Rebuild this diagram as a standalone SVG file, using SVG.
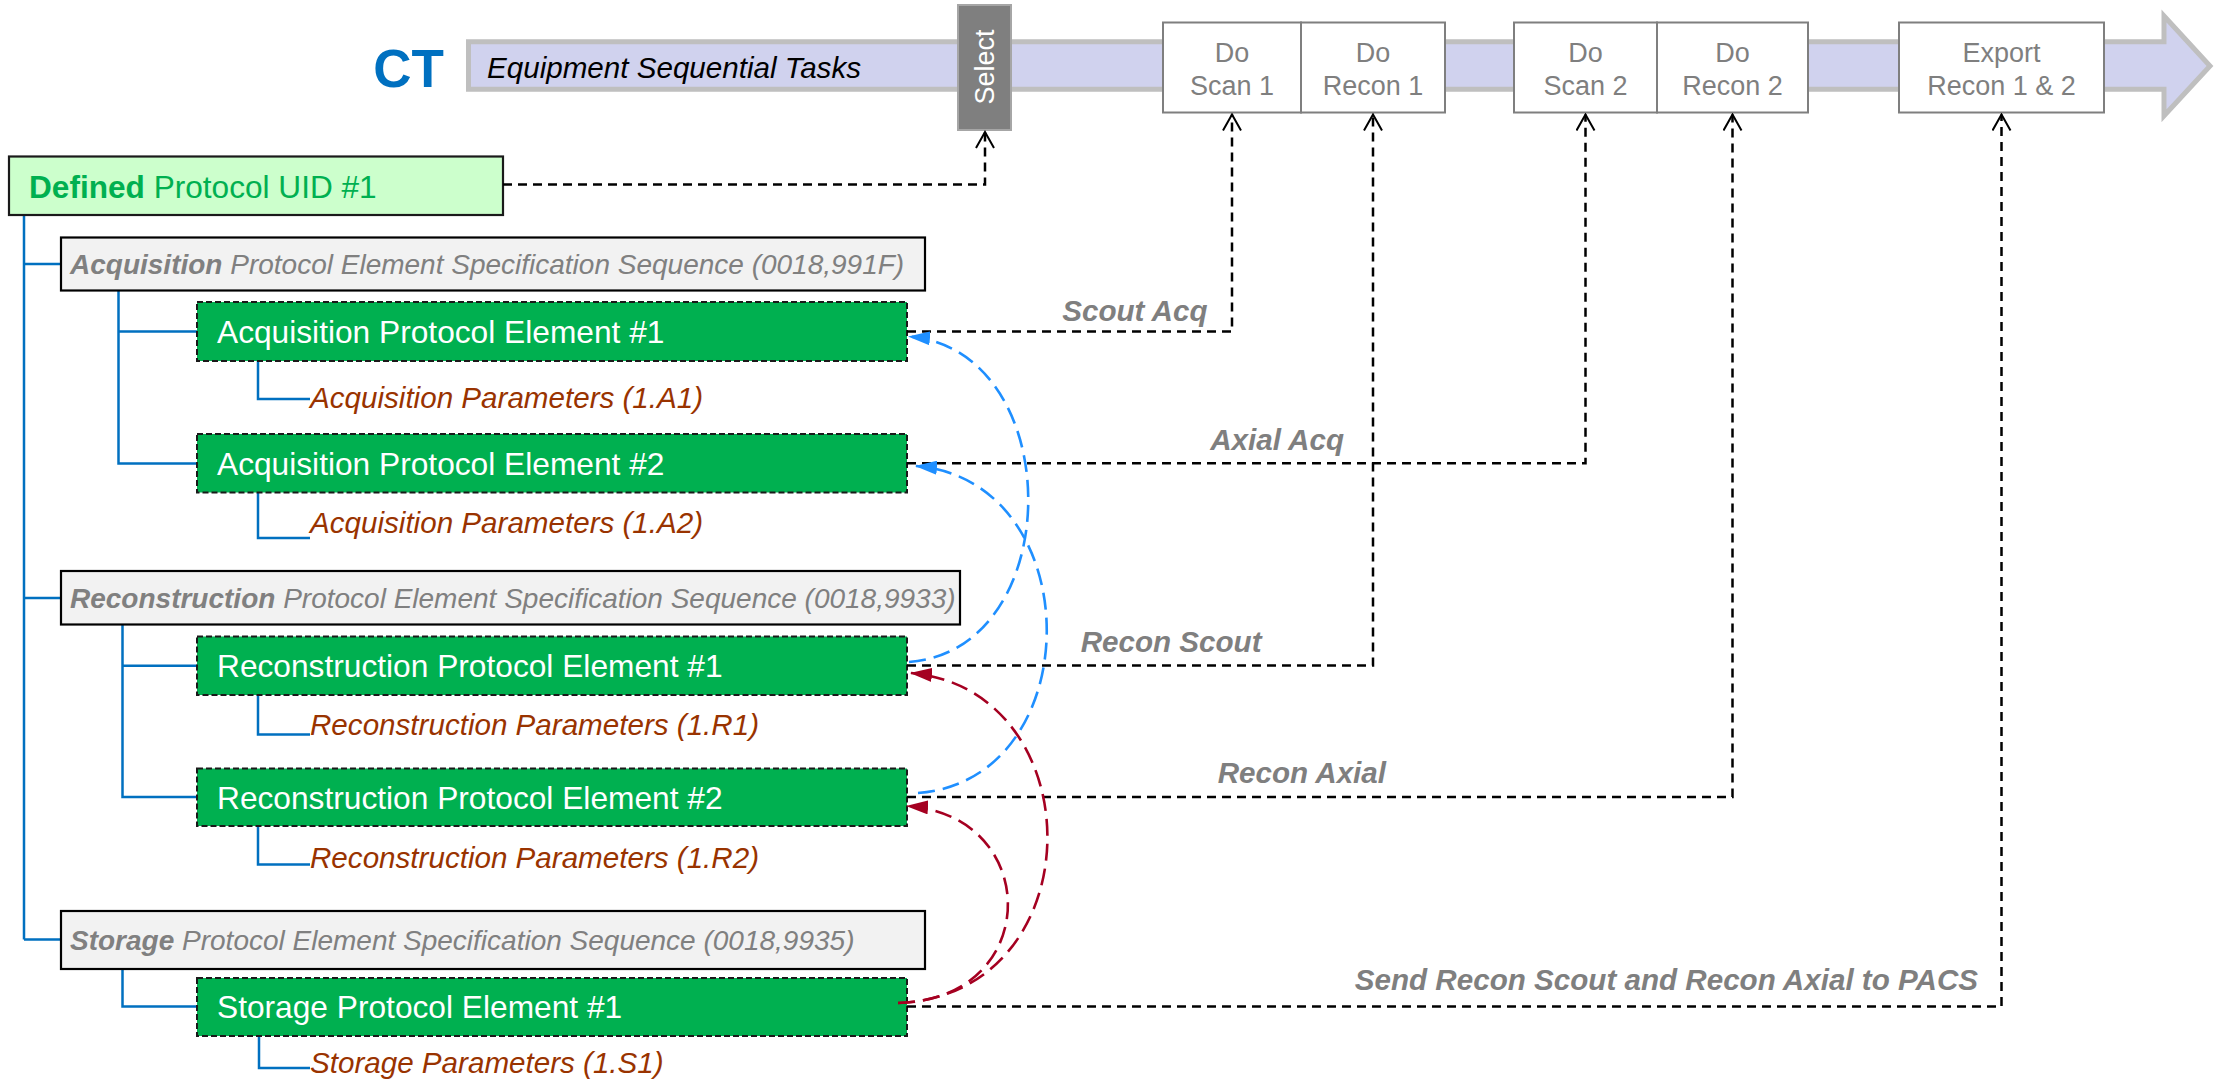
<svg xmlns="http://www.w3.org/2000/svg" width="2215" height="1081" viewBox="0 0 2215 1081">
  <style>
    text { font-family: "Liberation Sans", Arial, sans-serif; }
    .task { fill: #ffffff; stroke: #7f7f7f; stroke-width: 2; }
    .taskText { fill: #7f7f7f; font-size: 27px; text-anchor: middle; }
    .header { fill: #f2f2f2; stroke: #000000; stroke-width: 2.2; }
    .headerText { fill: #808080; font-size: 28px; font-style: italic; }
    .element { fill: #00b050; stroke: #1a1a1a; stroke-width: 2; stroke-dasharray: 6 3; }
    .elementText { fill: #ffffff; font-size: 31.7px; }
    .paramText { fill: #993300; font-size: 29.6px; font-style: italic; }
    .tree { fill: none; stroke: #0070c0; stroke-width: 2.5; }
    .link { fill: none; stroke: #000000; stroke-width: 2.5; stroke-dasharray: 9 6; }
    .linkLabel { fill: #7f7f7f; font-size: 29.6px; font-weight: bold; font-style: italic; text-anchor: end; }
    .blueCurve { fill: none; stroke: #1f8fff; stroke-width: 2.6; stroke-dasharray: 17 8; }
    .redCurve { fill: none; stroke: #a50021; stroke-width: 2.6; stroke-dasharray: 17 8; }
  </style>
  <defs>
    <marker id="openHead" viewBox="0 0 20 20" refX="18" refY="10" markerWidth="20" markerHeight="20" markerUnits="userSpaceOnUse" orient="auto">
      <path d="M2,1 L18,10 L2,19" fill="none" stroke="#000000" stroke-width="2"/>
    </marker>
    <marker id="blueHead" viewBox="0 0 22 14" refX="21" refY="7" markerWidth="22" markerHeight="14" markerUnits="userSpaceOnUse" orient="auto">
      <path d="M0,0 L22,7 L0,14 z" fill="#1f8fff"/>
    </marker>
    <marker id="redHead" viewBox="0 0 22 14" refX="21" refY="7" markerWidth="22" markerHeight="14" markerUnits="userSpaceOnUse" orient="auto">
      <path d="M0,0 L22,7 L0,14 z" fill="#a50021"/>
    </marker>
  </defs>

  <rect x="0" y="0" width="2215" height="1081" fill="#ffffff"/>

  <!-- timeline band -->
  <g id="timeline">
    <text x="444" y="87" font-size="53" font-weight="bold" fill="#0070c0" text-anchor="end">CT</text>
    <polygon points="468.5,41.8 2164,41.8 2164,16 2210,66 2164,115.8 2164,89.2 468.5,89.2" fill="#d0d2ee" stroke="#bfbfbf" stroke-width="5"/>
    <text x="487" y="78" font-size="29.6" font-style="italic" fill="#000000">Equipment Sequential Tasks</text>
  </g>

  <g id="select">
    <rect x="958" y="5" width="53" height="125" fill="#7f7f7f" stroke="#a6a6a6" stroke-width="2"/>
    <text x="0" y="0" transform="translate(994,67) rotate(-90)" font-size="27" fill="#ffffff" text-anchor="middle">Select</text>
  </g>

  <g id="do-scan-1">
    <rect class="task" x="1163" y="22.5" width="138" height="90"/>
    <text class="taskText" x="1232" y="62">Do</text>
    <text class="taskText" x="1232" y="95">Scan 1</text>
  </g>
  <g id="do-recon-1">
    <rect class="task" x="1301" y="22.5" width="144" height="90"/>
    <text class="taskText" x="1373" y="62">Do</text>
    <text class="taskText" x="1373" y="95">Recon 1</text>
  </g>
  <g id="do-scan-2">
    <rect class="task" x="1514" y="22.5" width="143" height="90"/>
    <text class="taskText" x="1585.5" y="62">Do</text>
    <text class="taskText" x="1585.5" y="95">Scan 2</text>
  </g>
  <g id="do-recon-2">
    <rect class="task" x="1657" y="22.5" width="151" height="90"/>
    <text class="taskText" x="1732.5" y="62">Do</text>
    <text class="taskText" x="1732.5" y="95">Recon 2</text>
  </g>
  <g id="export">
    <rect class="task" x="1899" y="22.5" width="205" height="90"/>
    <text class="taskText" x="2001.5" y="62">Export</text>
    <text class="taskText" x="2001.5" y="95">Recon 1 &amp; 2</text>
  </g>

  <!-- protocol tree lines -->
  <g id="tree-lines" class="tree">
    <path d="M24,215 V939.5 M24,264 H61 M24,598 H61 M24,939.5 H61"/>
    <path d="M118.5,291 V463.5 H197 M118.5,331.5 H197"/>
    <path d="M122.5,624.5 V797 H197 M122.5,665.7 H197"/>
    <path d="M122.5,969 V1006.5 H197"/>
    <path d="M258,361 V399 H310"/>
    <path d="M258,492.5 V538 H310"/>
    <path d="M258,695 V734.5 H310"/>
    <path d="M258,826 V864.5 H310"/>
    <path d="M259,1036 V1068 H310"/>
  </g>

  <g id="defined-protocol">
    <rect x="9" y="156.5" width="494" height="58.5" fill="#ccffcc" stroke="#1a1a1a" stroke-width="2.2"/>
    <text x="29" y="198" font-size="31.6" fill="#00b050"><tspan font-weight="bold">Defined</tspan> Protocol UID #1</text>
  </g>

  <g id="acquisition-sequence">
    <rect class="header" x="61" y="237.5" width="864" height="53"/>
    <text class="headerText" x="70" y="274"><tspan font-weight="bold">Acquisition</tspan> Protocol Element Specification Sequence (0018,991F)</text>
  </g>
  <g id="acquisition-element-1">
    <rect class="element" x="197" y="302" width="710" height="59"/>
    <text class="elementText" x="217" y="343">Acquisition Protocol Element #1</text>
  </g>
  <g id="acquisition-parameters-1">
    <text class="paramText" x="310" y="408">Acquisition Parameters (1.A1)</text>
  </g>
  <g id="acquisition-element-2">
    <rect class="element" x="197" y="434" width="710" height="58.5"/>
    <text class="elementText" x="217" y="475">Acquisition Protocol Element #2</text>
  </g>
  <g id="acquisition-parameters-2">
    <text class="paramText" x="310" y="533">Acquisition Parameters (1.A2)</text>
  </g>

  <g id="reconstruction-sequence">
    <rect class="header" x="61" y="571" width="899" height="53.5"/>
    <text class="headerText" x="70" y="608"><tspan font-weight="bold">Reconstruction</tspan> Protocol Element Specification Sequence (0018,9933)</text>
  </g>
  <g id="reconstruction-element-1">
    <rect class="element" x="197" y="636.5" width="710" height="58.5"/>
    <text class="elementText" x="217" y="677">Reconstruction Protocol Element #1</text>
  </g>
  <g id="reconstruction-parameters-1">
    <text class="paramText" x="310" y="735">Reconstruction Parameters (1.R1)</text>
  </g>
  <g id="reconstruction-element-2">
    <rect class="element" x="197" y="768.5" width="710" height="57.5"/>
    <text class="elementText" x="217" y="808.5">Reconstruction Protocol Element #2</text>
  </g>
  <g id="reconstruction-parameters-2">
    <text class="paramText" x="310" y="868">Reconstruction Parameters (1.R2)</text>
  </g>

  <g id="storage-sequence">
    <rect class="header" x="61" y="911" width="864" height="58"/>
    <text class="headerText" x="70" y="950"><tspan font-weight="bold">Storage</tspan> Protocol Element Specification Sequence (0018,9935)</text>
  </g>
  <g id="storage-element-1">
    <rect class="element" x="197" y="978" width="710" height="58"/>
    <text class="elementText" x="217" y="1018">Storage Protocol Element #1</text>
  </g>
  <g id="storage-parameters-1">
    <text class="paramText" x="310" y="1073">Storage Parameters (1.S1)</text>
  </g>

  <!-- connectors -->
  <g id="connectors">
    <path class="link" d="M503,184.5 H985 V132" marker-end="url(#openHead)"/>
    <path class="link" d="M907,331.5 H1232 V114.5" marker-end="url(#openHead)"/>
    <path class="link" d="M907,463.3 H1585.5 V114.5" marker-end="url(#openHead)"/>
    <path class="link" d="M907,665.5 H1373 V114.5" marker-end="url(#openHead)"/>
    <path class="link" d="M907,797 H1732.5 V114.5" marker-end="url(#openHead)"/>
    <path class="link" d="M907,1006.5 H2001.5 V114.5" marker-end="url(#openHead)"/>

    <text class="linkLabel" x="1207.5" y="320.5">Scout Acq</text>
    <text class="linkLabel" x="1344" y="450">Axial Acq</text>
    <text class="linkLabel" x="1261.5" y="652">Recon Scout</text>
    <text class="linkLabel" x="1386" y="783">Recon Axial</text>
    <text class="linkLabel" x="1978" y="990">Send Recon Scout and Recon Axial to PACS</text>

    <path class="blueCurve" d="M909,662 C1068,650 1068,350 909,336.5" marker-end="url(#blueHead)"/>
    <path class="blueCurve" d="M918,793 C1090,780 1090,480 916,466" marker-end="url(#blueHead)"/>
    <path class="redCurve" d="M898,1003 C1095,995 1095,690 911,673" marker-end="url(#redHead)"/>
    <path class="redCurve" d="M898,1003 C1043,1000 1043,815 907,806" marker-end="url(#redHead)"/>
  </g>
</svg>
